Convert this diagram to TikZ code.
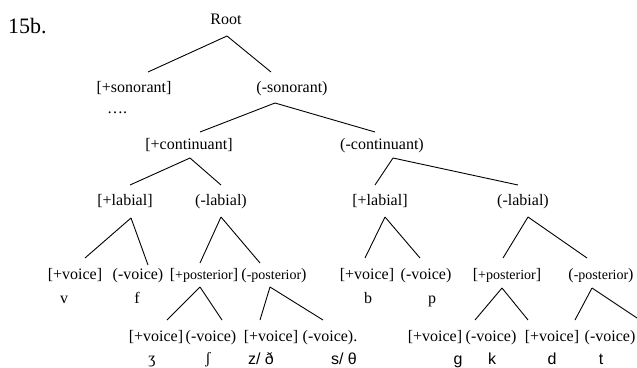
\documentclass[tikz,border=0pt]{standalone}
\usepackage{fontspec}
\setmainfont{Liberation Serif}
\newfontfamily\symsans{Liberation Sans}
\usetikzlibrary{calc}
\tikzset{
  lab/.style={anchor=base, inner sep=0pt, font=\fontsize{16}{19}\selectfont},
  sym/.style={anchor=base, inner sep=0pt, font=\symsans\fontsize{16}{19}\selectfont},
  edge/.style={draw=black, line width=0.9pt},
}
\newcommand{\smalltxt}[1]{{\fontsize{14}{16}\selectfont #1}}
\begin{document}
\begin{tikzpicture}[x=1pt,y=-1pt]
\useasboundingbox (0,0) rectangle (637,367);
\clip (0,0) rectangle (637,367);
% title
\node[anchor=base west, inner sep=0pt, font=\fontsize{22}{26}\selectfont] (title) at (8,33) {15b.};
% nodes
\node[lab] (root) at (226,24) {Root};
\node[lab] (sonp) at (134,92) {[+sonorant]};
\node[anchor=base west, inner sep=0pt, font=\fontsize{16}{19}\selectfont] (dots) at (107,113) {….};
\node[lab] (sonm) at (292,92) {(-sonorant)};
\node[lab] (contp) at (189,149) {[+continuant]};
\node[lab] (contm) at (382,149) {(-continuant)};
\node[lab] (labap) at (125,205) {[+labial]};
\node[lab] (labam) at (221,205) {(-labial)};
\node[lab] (labbp) at (380,205) {[+labial]};
\node[lab] (labbm) at (523,205) {(-labial)};
% voice row
\node[lab] (vap) at (75,279) {[+voice]};
\node[lab] (vam) at (138,279) {(-voice)};
\node[lab] (pap) at (204,279) {[\smalltxt{+posterior}]};
\node[lab] (pam) at (274,279) {(\smalltxt{-posterior})};
\node[lab] (vbp) at (367,279) {[+voice]};
\node[lab] (vbm) at (426,279) {(-voice)};
\node[lab] (pbp) at (507,279) {[\smalltxt{+posterior}]};
\node[lab] (pbm) at (601,279) {(\smalltxt{-posterior})};
% symbols row 1
\node[lab] (sv) at (64,303) {v};
\node[lab] (sf) at (137,303) {f};
\node[lab] (sb) at (368,303) {b};
\node[lab] (sp) at (432,303) {p};
% bottom row
\node[lab] (b1) at (156,341) {[+voice]};
\node[lab] (b2) at (211,341) {(-voice)};
\node[lab] (b3) at (271,341) {[+voice]};
\node[lab] (b4) at (330,341) {(-voice).};
\node[lab] (b5) at (435,341) {[+voice]};
\node[lab] (b6) at (491,341) {(-voice)};
\node[lab] (b7) at (552,341) {[+voice]};
\node[lab] (b8) at (610,341) {(-voice)};
% symbols row 2
\node[lab] (s1) at (152,363) {ʒ};
\node[lab] (s2) at (208,363) {ʃ};
\node[sym] (s3) at (261,364) {z/ ð};
\node[sym] (s4) at (344,364) {s/ θ};
\node[sym] (s5) at (458,364) {g};
\node[sym] (s6) at (492,364) {k};
\node[sym] (s7) at (552,364) {d};
\node[sym] (s8) at (601,364) {t};
% edges
\draw[edge] ($(root.base)+(1,12)$) -- ($(sonp.base)+(14,-20)$);
\draw[edge] ($(root.base)+(1,12)$) -- ($(sonm.base)+(-21,-20)$);
\draw[edge] ($(sonm.base)+(-17,11)$) -- ($(contp.base)+(11,-17)$);
\draw[edge] ($(sonm.base)+(-17,11)$) -- ($(contm.base)+(-7,-17)$);
\draw[edge] ($(contp.base)+(1,9)$) -- ($(labap.base)+(5,-20)$);
\draw[edge] ($(contp.base)+(1,9)$) -- ($(labam.base)+(0,-20)$);
\draw[edge] ($(contm.base)+(11,9)$) -- ($(labbp.base)+(-5,-20)$);
\draw[edge] ($(contm.base)+(11,9)$) -- ($(labbm.base)+(-5,-20)$);
\draw[edge] ($(labap.base)+(6,13)$) -- ($(vap.base)+(10,-21)$);
\draw[edge] ($(labap.base)+(6,13)$) -- ($(vam.base)+(10,-14)$);
\draw[edge] ($(labam.base)+(0,12)$) -- ($(pap.base)+(-4,-16)$);
\draw[edge] ($(labam.base)+(0,12)$) -- ($(pam.base)+(-14,-16)$);
\draw[edge] ($(labbp.base)+(5,12)$) -- ($(vbp.base)+(-2,-21)$);
\draw[edge] ($(labbp.base)+(5,12)$) -- ($(vbm.base)+(-6,-21)$);
\draw[edge] ($(labbm.base)+(5,12)$) -- ($(pbp.base)+(-4,-21)$);
\draw[edge] ($(labbm.base)+(5,12)$) -- ($(pbm.base)+(-14,-21)$);
\draw[edge] ($(pap.base)+(-4,8)$) -- ($(b1.base)+(11,-21)$);
\draw[edge] ($(pap.base)+(-4,8)$) -- ($(b2.base)+(11,-21)$);
\draw[edge] ($(pam.base)+(-4,8)$) -- ($(b3.base)+(-11,-21)$);
\draw[edge] ($(pam.base)+(-4,8)$) -- ($(b4.base)+(-7,-21)$);
\draw[edge] ($(pbp.base)+(-5,9)$) -- ($(b5.base)+(40,-21)$);
\draw[edge] ($(pbp.base)+(-5,9)$) -- ($(b6.base)+(37,-21)$);
\draw[edge] ($(pbm.base)+(-9,9)$) -- ($(b7.base)+(23,-21)$);
\draw[edge] ($(pbm.base)+(-9,9)$) -- ($(b8.base)+(27,-23)$);
\end{tikzpicture}
\end{document}
